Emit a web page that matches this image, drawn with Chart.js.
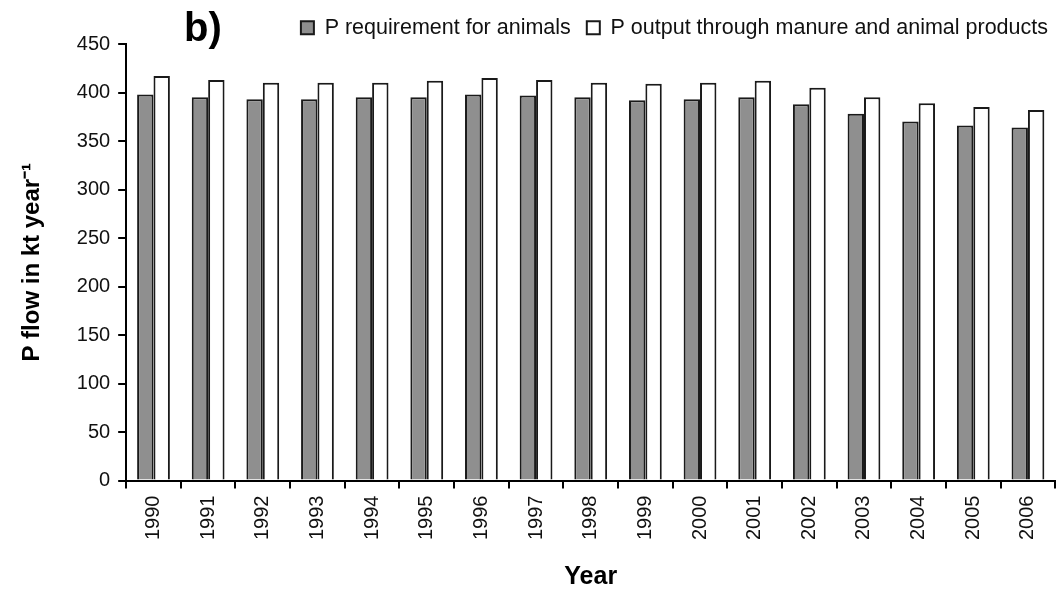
<!DOCTYPE html>
<html>
<head>
<meta charset="utf-8">
<script src="https://cdn.jsdelivr.net/npm/chart.js@4/dist/chart.umd.min.js"></script>
<style>
  html, body { margin: 0; padding: 0; background: #fff; }
  #wrap { width: 1059px; height: 590px; }
</style>
</head>
<body>
<div id="wrap"><canvas id="chart" width="1059" height="590"></canvas></div>
<script>
const years = ['1990', '1991', '1992', '1993', '1994', '1995', '1996', '1997', '1998',
  '1999', '2000', '2001', '2002', '2003', '2004', '2005', '2006'];
const requirement = [398, 395, 393, 393, 395, 395, 398, 397, 395, 392, 393, 395, 388, 378, 370, 366, 364];
const output = [417, 413, 410, 410, 410, 412, 415, 413, 410, 409, 410, 412, 405, 395, 389, 385, 382];
const yTicks = [0, 50, 100, 150, 200, 250, 300, 350, 400, 450];

const FONT = '"Liberation Sans", Arial, sans-serif';
const INK = '#1a1a1a';

// "b)" panel label sits to the left of the legend row
const panelLabel = {
  id: 'panelLabel',
  beforeInit(chart) {
    // keep the legend row short so the plot starts right under it
    const legend = chart.legend;
    if (!legend) return;
    const fit = legend.fit;
    legend.fit = function () {
      fit.call(this);
      this.height = 43;
    };
  },
  afterLayout(chart) {
    // nudge the legend a little closer to the right edge
    if (chart.legend) {
      chart.legend.left += 7;
      chart.legend.right += 7;
    }
  },
  afterDraw(chart) {
    const ctx = chart.ctx;
    ctx.save();
    ctx.font = 'bold 40px ' + FONT;
    ctx.fillStyle = '#000';
    ctx.textBaseline = 'alphabetic';
    ctx.fillText('b)', 184, 41);
    ctx.restore();
  }
};

new Chart(document.getElementById('chart').getContext('2d'), {
  type: 'bar',
  data: {
    labels: years,
    datasets: [
      { label: 'P requirement for animals', data: requirement,
        backgroundColor: '#8f8f8f', borderColor: INK, borderWidth: 2 },
      { label: 'P output through manure and animal products', data: output,
        backgroundColor: '#ffffff', borderColor: INK, borderWidth: 2 }
    ]
  },
  options: {
    responsive: false,
    animation: false,
    layout: { padding: { top: 1, right: 2, left: 18, bottom: 0 } },
    datasets: { bar: { categoryPercentage: 0.6, barPercentage: 1.0 } },
    plugins: {
      tooltip: { enabled: false },
      legend: {
        position: 'top', align: 'end',
        labels: { font: { family: FONT, size: 21.5 }, color: '#111',
          boxWidth: 13, boxHeight: 13, padding: 16 }
      }
    },
    scales: {
      x: {
        border: { color: '#000', width: 2 },
        grid: { display: true, drawOnChartArea: false, color: '#000', lineWidth: 2, tickLength: 8, offset: true },
        ticks: { font: { family: FONT, size: 20 }, color: '#111', minRotation: 90, maxRotation: 90, padding: 7 },
        title: { display: true, text: 'Year', font: { family: FONT, size: 25, weight: 'bold', lineHeight: 1 }, color: '#000', padding: { top: 18, bottom: 0 } }
      },
      y: {
        min: 0, max: 450,
        afterBuildTicks(axis) { axis.ticks = yTicks.map(v => ({ value: v })); },
        border: { color: '#000', width: 2 },
        grid: { display: true, drawOnChartArea: false, color: '#000', lineWidth: 2, tickLength: 8 },
        ticks: { font: { family: FONT, size: 20 }, color: '#111', padding: 8 },
        title: { display: true, text: 'P flow in kt year\u207B\u00B9', font: { family: FONT, size: 24, weight: 'bold' }, color: '#000', padding: { top: 0, bottom: 22 } }
      }
    }
  },
  plugins: [panelLabel]
});
</script>
</body>
</html>
